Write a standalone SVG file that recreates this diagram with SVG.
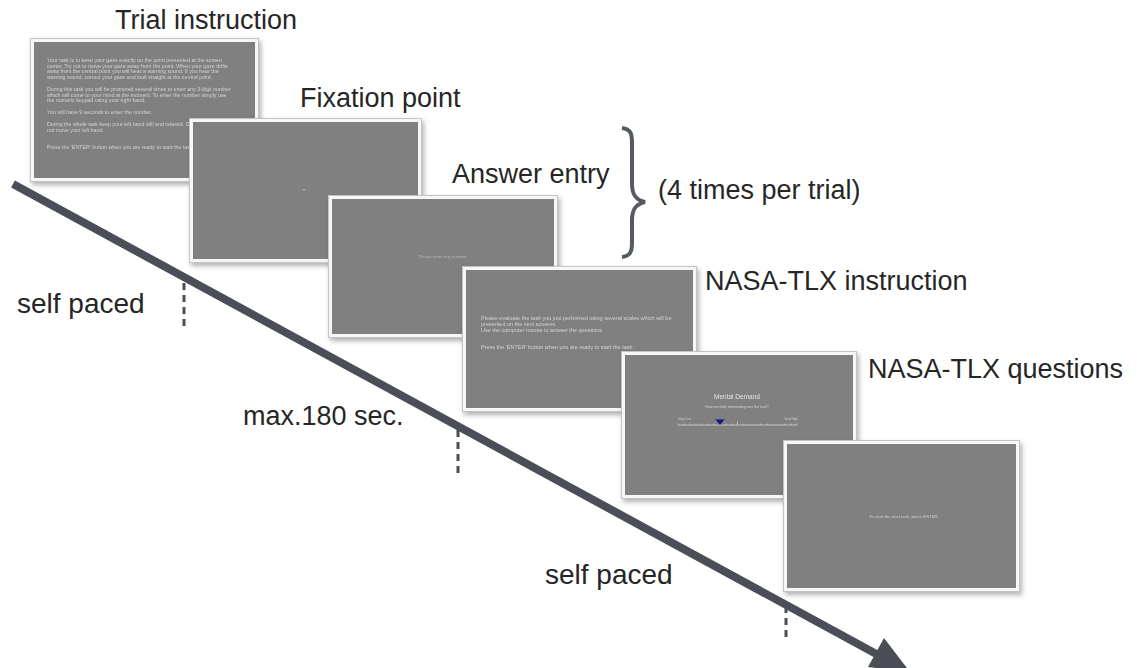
<svg xmlns="http://www.w3.org/2000/svg" width="1142" height="668" viewBox="0 0 1142 668">
<style>
.lbl{font-family:"Liberation Sans",Arial,sans-serif;font-size:27px;fill:#262626}
.st{font-family:"Liberation Sans",Arial,sans-serif;font-size:5.3px;fill:#d2d2d2}
.sm{font-family:"Liberation Sans",Arial,sans-serif;font-size:4.3px;fill:#b4b4b4}
.ol{fill:#c4c4c4}
.wb{fill:#f7f7f7}
.gy{fill:#808080}
.tick{stroke:#4b4e56;stroke-width:3;stroke-dasharray:7 5}
</style>
<defs>
<filter id="sh" x="-10%" y="-10%" width="125%" height="130%">
<feDropShadow dx="2" dy="3" stdDeviation="2.5" flood-color="#000" flood-opacity="0.3"/>
</filter>
</defs>
<rect width="1142" height="668" fill="#fff"/>

<g id="connectors">
<line x1="13" y1="184" x2="880" y2="656" stroke="#4b4e56" stroke-width="8"/>
<polygon points="910,672 868,667 884,638" fill="#4b4e56"/>
<line class="tick" x1="184" y1="283" x2="184" y2="329"/>
<line class="tick" x1="458" y1="430" x2="458" y2="476"/>
<line class="tick" x1="786" y1="606" x2="786" y2="640"/>
<path d="M622,128 C631,129 632,134 632,143 L632,184 C632,195 636,200 645,202 C636,204 632,209 632,220 L632,243 C632,252 630,256 622,257" fill="none" stroke="#555a61" stroke-width="4"/>
</g>

<g id="screen-trial" filter="url(#sh)">
<rect class="ol" x="30" y="38" width="229" height="144"/>
<rect class="wb" x="31" y="39" width="227" height="142"/>
<rect class="gy" x="34" y="42" width="221" height="136"/>
<text class="st" x="47" y="62">Your task is to keep your gaze exactly on the point presented at the screen</text>
<text class="st" x="47" y="67.7">center.  Try not to move your gaze away from the point.  When your gaze drifts</text>
<text class="st" x="47" y="73.4">away from the central point you will hear a warning sound.  If you hear the</text>
<text class="st" x="47" y="79.1">warning sound, correct your gaze and look straight at the central point.</text>
<text class="st" x="47" y="91">During this task you will be prompted several times to enter any 3-digit number</text>
<text class="st" x="47" y="96.7">which will come to your mind at the moment.  To enter the number simply use</text>
<text class="st" x="47" y="102.4">the numeric keypad using your right hand.</text>
<text class="st" x="47" y="114.3">You will have 9 seconds to enter the number.</text>
<text class="st" x="47" y="126.2">During the whole task keep your left hand still and relaxed. Do</text>
<text class="st" x="47" y="131.9">not move your left hand.</text>
<text class="st" x="47" y="149.3">Press the 'ENTER' button when you are ready to start the task.</text>
</g>
<text class="lbl" x="115" y="29">Trial instruction</text>

<g id="screen-fixation" filter="url(#sh)">
<rect class="ol" x="189" y="118" width="233" height="145"/>
<rect class="wb" x="190" y="119" width="231" height="143"/>
<rect class="gy" x="193" y="122" width="225" height="137"/>
<circle cx="304" cy="190" r="0.9" fill="#b8b8b8"/>
</g>
<text class="lbl" x="300" y="107">Fixation point</text>

<g id="screen-answer" filter="url(#sh)">
<rect class="ol" x="328" y="195" width="230" height="143"/>
<rect class="wb" x="329" y="196" width="228" height="141"/>
<rect class="gy" x="332" y="199" width="222" height="135"/>
<text class="sm" x="442.5" y="257.5" text-anchor="middle">Please enter any number</text>
</g>
<text class="lbl" x="452" y="183">Answer entry</text>
<text class="lbl" x="658" y="199">(4 times per trial)</text>

<g id="screen-nasa-instr" filter="url(#sh)">
<rect class="ol" x="462" y="266" width="235" height="146"/>
<rect class="wb" x="463" y="267" width="233" height="144"/>
<rect class="gy" x="466" y="270" width="227" height="138"/>
<text class="st" x="481" y="319.5" style="font-size:5.5px">Please evaluate the task you just performed using several scales which will be</text>
<text class="st" x="481" y="325.5" style="font-size:5.5px">presented on the next screens.</text>
<text class="st" x="481" y="331.5" style="font-size:5.5px">Use the computer mouse to answer the questions.</text>
<text class="st" x="481" y="349" style="font-size:5.5px">Press the 'ENTER' button when you are ready to start the task.</text>
</g>
<text class="lbl" x="705" y="290">NASA-TLX instruction</text>

<g id="screen-nasa-questions" filter="url(#sh)">
<rect class="ol" x="621" y="351" width="236" height="148"/>
<rect class="wb" x="622" y="352" width="234" height="146"/>
<rect class="gy" x="625" y="355" width="228" height="140"/>
<text x="737" y="398.5" text-anchor="middle" style="font-family:'Liberation Sans',Arial,sans-serif;font-size:6.5px;fill:#e0e0e0">Mental Demand</text>
<text class="sm" x="737" y="407.5" text-anchor="middle" style="font-size:3.6px;fill:#d0d0d0">How mentally demanding was the task?</text>
<text class="sm" x="678" y="420" style="font-size:3.2px;fill:#d0d0d0">Very Low</text>
<text class="sm" x="798" y="420" text-anchor="end" style="font-size:3.2px;fill:#d0d0d0">Very High</text>
<line x1="678" y1="425" x2="797" y2="425" stroke="#dcdcdc" stroke-width="0.7"/>
<path d="M678,423.5V425M684,423.5V425M690,423.5V425M696,423.5V425M702,423.5V425M708,423.5V425M714,423.5V425M720,423.5V425M726,423.5V425M732,423.5V425M737.5,421.5V425M743,423.5V425M749,423.5V425M755,423.5V425M761,423.5V425M767,423.5V425M773,423.5V425M779,423.5V425M785,423.5V425M791,423.5V425M797,423.5V425" stroke="#dcdcdc" stroke-width="0.6"/>
<polygon points="715.5,419.5 724.5,419.5 720,425" fill="#14148a"/>
</g>
<text class="lbl" x="868" y="378">NASA-TLX questions</text>

<g id="screen-final" filter="url(#sh)">
<rect class="ol" x="783" y="440" width="237" height="152"/>
<rect class="wb" x="784" y="441" width="235" height="150"/>
<rect class="gy" x="787" y="444" width="229" height="144"/>
<text class="sm" x="903.5" y="517.5" text-anchor="middle" style="fill:#d0d0d0">To start the next task, press ENTER</text>
</g>

<text class="lbl" x="17" y="313" style="font-size:28px">self paced</text>
<text class="lbl" x="243" y="425">max.180 sec.</text>
<text class="lbl" x="545" y="584" style="font-size:28px">self paced</text>
</svg>
